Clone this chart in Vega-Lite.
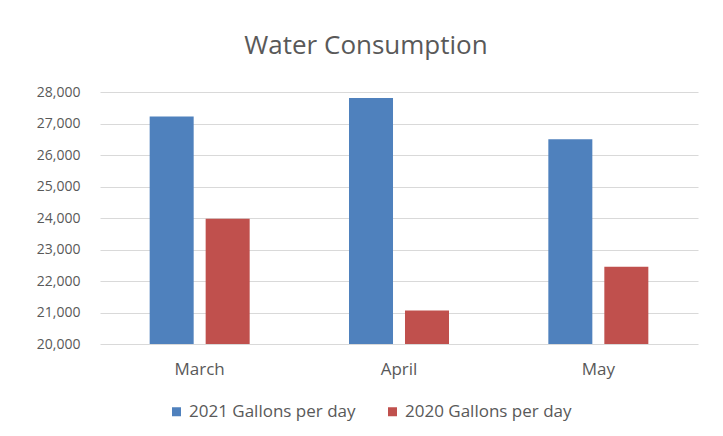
{
  "$schema": "https://vega.github.io/schema/vega-lite/v6.json",
  "width": 598,
  "height": 252,
  "autosize": {"type": "none"},
  "padding": {"left": 100, "top": 92, "right": 25, "bottom": 92},
  "background": "white",
  "title": {
    "text": "Water Consumption",
    "anchor": "middle",
    "dx": -33,
    "offset": 26,
    "fontSize": 26,
    "font": "Open Sans",
    "fontWeight": "normal",
    "color": "#595959"
  },
  "data": {
    "values": [
      {"month": "March", "series": "2021 Gallons per day", "gallons": 27220},
      {"month": "March", "series": "2020 Gallons per day", "gallons": 23980},
      {"month": "April", "series": "2021 Gallons per day", "gallons": 27810},
      {"month": "April", "series": "2020 Gallons per day", "gallons": 21060},
      {"month": "May", "series": "2021 Gallons per day", "gallons": 26500},
      {"month": "May", "series": "2020 Gallons per day", "gallons": 22450}
    ]
  },
  "mark": {"type": "bar", "clip": true},
  "encoding": {
    "x": {
      "field": "month",
      "type": "nominal",
      "sort": ["March", "April", "May"],
      "scale": {"paddingInner": 0, "paddingOuter": 0},
      "axis": {
        "title": null,
        "labelAngle": 0,
        "ticks": false,
        "domain": false,
        "labelPadding": 17,
        "labelFont": "Open Sans",
        "labelFontSize": 17,
        "labelColor": "#595959"
      }
    },
    "xOffset": {
      "field": "series",
      "type": "nominal",
      "sort": ["2021 Gallons per day", "2020 Gallons per day"],
      "scale": {"paddingInner": 0.214, "paddingOuter": 0.887}
    },
    "y": {
      "field": "gallons",
      "type": "quantitative",
      "scale": {"domain": [20000, 28000], "nice": false, "zero": false},
      "axis": {
        "title": null,
        "values": [20000, 21000, 22000, 23000, 24000, 25000, 26000, 27000, 28000],
        "format": ",d",
        "ticks": false,
        "domain": false,
        "labelPadding": 20,
        "labelFont": "Open Sans",
        "labelFontSize": 14,
        "labelColor": "#595959",
        "gridColor": "#d9d9d9",
        "gridWidth": 1
      }
    },
    "y2": {"datum": 20000},
    "color": {
      "field": "series",
      "type": "nominal",
      "sort": ["2021 Gallons per day", "2020 Gallons per day"],
      "scale": {"range": ["#4f81bd", "#c0504d"]},
      "legend": {
        "title": null,
        "orient": "none",
        "direction": "horizontal",
        "legendX": 68,
        "legendY": 311,
        "padding": 0,
        "symbolType": "square",
        "symbolSize": 81,
        "symbolStrokeWidth": 0,
        "labelFont": "Open Sans",
        "labelFontSize": 17,
        "labelLimit": 0,
        "labelColor": "#595959",
        "labelOffset": 4,
        "columnPadding": 28
      }
    }
  },
  "config": {"view": {"stroke": null}}
}
